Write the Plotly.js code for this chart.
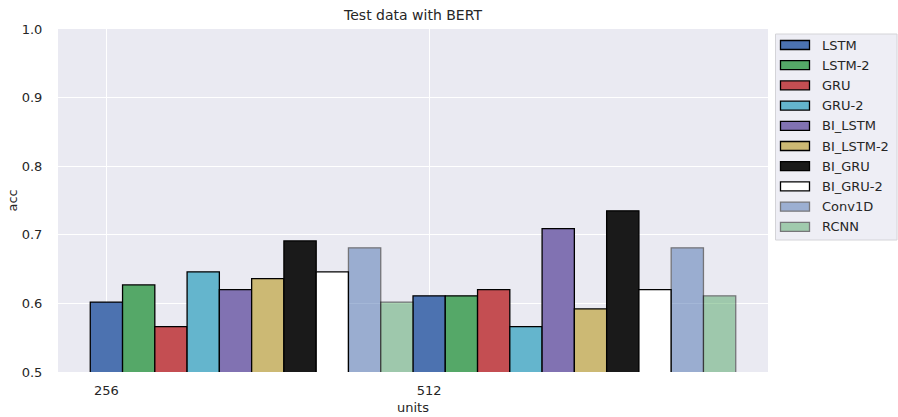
<!DOCTYPE html>
<html>
<head>
<meta charset="utf-8">
<script src="https://cdn.plot.ly/plotly-3.0.1.min.js"></script>
<style>
  html, body { margin: 0; padding: 0; background: #ffffff; }
  #chart { width: 898px; height: 417px; }
</style>
</head>
<body>
<div id="chart"></div>
<script>
// Unit sizes on the x axis
const units = ['256', '512'];

// Model names, in plotting / legend order
const models = ['LSTM', 'LSTM-2', 'GRU', 'GRU-2', 'BI_LSTM', 'BI_LSTM-2', 'BI_GRU', 'BI_GRU-2', 'Conv1D', 'RCNN'];

// Test accuracy per model, one value per unit size
const accLSTM     = [0.602, 0.611];
const accLSTM2    = [0.627, 0.611];
const accGRU      = [0.566, 0.620];
const accGRU2     = [0.646, 0.566];
const accBiLSTM   = [0.620, 0.709];
const accBiLSTM2  = [0.636, 0.592];
const accBiGRU    = [0.691, 0.735];
const accBiGRU2   = [0.646, 0.620];
const accConv1D   = [0.681, 0.681];
const accRCNN     = [0.602, 0.611];

const accuracies = [accLSTM, accLSTM2, accGRU, accGRU2, accBiLSTM, accBiLSTM2, accBiGRU, accBiGRU2, accConv1D, accRCNN];

// y axis ticks
const yTicks = [0.5, 0.6, 0.7, 0.8, 0.9, 1.0];

// Styling
const fills    = ['#4C72B0', '#55A868', '#C44E52', '#64B5CD', '#8172B2', '#CCB974', '#1A1A1A', '#FFFFFF', '#4C72B0', '#55A868'];
const opacities = [1, 1, 1, 1, 1, 1, 1, 1, 0.5, 0.5];
const textColor = '#262626';
const font = 'DejaVu Sans, sans-serif';

const barWidth = 0.1;

// Plot-area geometry in pixels (used for the hand-drawn legend)
const W = 898, H = 417;
const M = { l: 58, r: 130, t: 29, b: 45 };
const plotW = W - M.l - M.r, plotH = H - M.t - M.b;
const px2x = p => (p - M.l) / plotW;
const px2y = p => (H - M.b - p) / plotH;

const traces = models.map((name, i) => ({
  type: 'bar',
  name: name,
  x: units.map((u, g) => g + i * barWidth),
  y: accuracies[i],
  width: barWidth,
  base: 0,
  marker: {
    color: fills[i],
    opacity: opacities[i],
    line: { color: '#000000', width: 1.3 }
  },
  showlegend: false,
  hoverinfo: 'x+y'
}));

// Legend: box, swatches and labels
const shapes = [];
const annotations = [];
shapes.push({
  type: 'rect', xref: 'paper', yref: 'paper',
  x0: px2x(775.5), x1: px2x(897), y0: px2y(240), y1: px2y(34),
  fillcolor: '#EEEEF5', line: { color: '#D4D4D8', width: 1 }, layer: 'above'
});
models.forEach((name, i) => {
  const cy = 45 + i * 20.2;
  shapes.push({
    type: 'rect', xref: 'paper', yref: 'paper',
    x0: px2x(780.5), x1: px2x(809.5), y0: px2y(cy + 4.5), y1: px2y(cy - 4.5),
    fillcolor: fills[i], opacity: opacities[i],
    line: { color: '#000000', width: 1.3 }, layer: 'above'
  });
  annotations.push({
    xref: 'paper', yref: 'paper', x: px2x(819.5), y: px2y(cy),
    xanchor: 'left', yanchor: 'middle', showarrow: false,
    text: name, font: { family: font, size: 13, color: textColor }
  });
});

// y axis title, placed by hand
annotations.push({
  xref: 'paper', yref: 'paper', x: px2x(12), y: 0.5,
  xanchor: 'center', yanchor: 'middle', showarrow: false, textangle: -90,
  text: 'acc', font: { family: font, size: 13, color: textColor }
});

const layout = {
  width: W, height: H,
  margin: M,
  paper_bgcolor: '#FFFFFF',
  plot_bgcolor: '#EAEAF2',
  font: { family: font, size: 13, color: textColor },
  title: {
    text: 'Test data with BERT',
    font: { family: font, size: 14, color: textColor },
    xref: 'paper', x: 0.5, xanchor: 'center',
    yref: 'container', y: 1 - 15 / H, yanchor: 'middle'
  },
  barmode: 'overlay',
  xaxis: {
    range: [-0.15, 2.05],
    tickvals: units.map((u, g) => g),
    ticktext: units,
    showgrid: true, gridcolor: '#FFFFFF', gridwidth: 1.2,
    zeroline: false, showline: false,
    ticks: 'outside', ticklen: 6, tickcolor: 'rgba(0,0,0,0)',
    tickfont: { family: font, size: 13, color: textColor },
    title: { text: 'units', font: { family: font, size: 13, color: textColor }, standoff: 6 }
  },
  yaxis: {
    range: [0.5, 1.0],
    tickvals: yTicks,
    tickformat: '.1f',
    showgrid: true, gridcolor: '#FFFFFF', gridwidth: 1.2,
    zeroline: false, showline: false,
    ticks: 'outside', ticklen: 12, tickcolor: 'rgba(0,0,0,0)',
    tickfont: { family: font, size: 13, color: textColor }
  },
  shapes: shapes,
  annotations: annotations,
  showlegend: false
};

Plotly.newPlot('chart', traces, layout, { displayModeBar: false, staticPlot: true });
</script>
</body>
</html>
